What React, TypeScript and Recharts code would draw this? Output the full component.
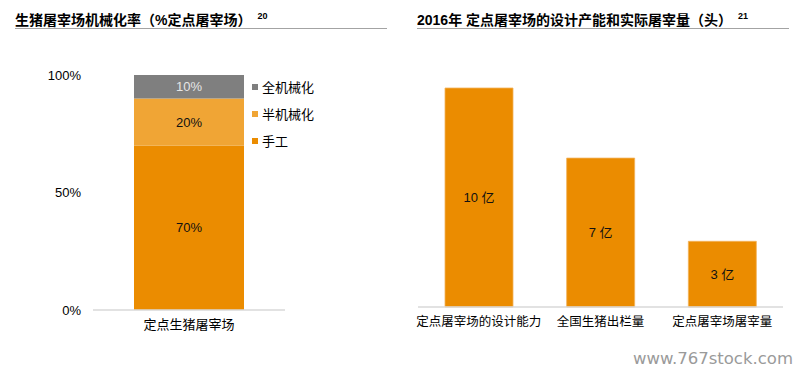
import { BarChart, Bar, XAxis, YAxis, Legend, LabelList } from "recharts";

const FONT = '"Liberation Sans", Arial, "Noto Sans CJK SC", sans-serif';

// left: mechanisation rate of designated slaughterhouses
const mechCategories = ["定点生猪屠宰场"];
const manualShare = [70];
const semiShare = [20];
const fullShare = [10];
const mechTicks = [0, 50, 100];
const legendOrder = ["全机械化", "半机械化", "手工"];

// right: 2016 design capacity vs actual slaughter (heads)
const capCategories = ["定点屠宰场的设计能力", "全国生猪出栏量", "定点屠宰场屠宰量"];
const capValues = [10, 6.8, 3];
const capLabels = ["10 亿", "7 亿", "3 亿"];

const mechData = mechCategories.map((name, i) => ({
  name,
  manual: manualShare[i],
  semi: semiShare[i],
  full: fullShare[i],
}));

const capData = capCategories.map((name, i) => ({
  name,
  value: capValues[i],
  label: capLabels[i],
}));

const ORANGE = "#EB8C00";
const LIGHT = "#F0A535";
const GREY = "#7F7F7F";

const LegendBox = (props: any) => {
  const items = [...(props.payload || [])].sort(
    (a: any, b: any) => legendOrder.indexOf(a.value) - legendOrder.indexOf(b.value)
  );
  return (
    <div style={{ fontFamily: FONT, fontSize: 13, color: "#000" }}>
      {items.map((it: any) => (
        <div key={it.value} style={{ display: "flex", alignItems: "center", height: 27 }}>
          <span style={{ width: 6, height: 6, background: it.color, marginRight: 4, display: "inline-block" }} />
          <span>{it.value}</span>
        </div>
      ))}
    </div>
  );
};

const Title = ({ left, width, text, note }: { left: number; width: number; text: string; note: string }) => (
  <div style={{ position: "absolute", left, top: 0, width }}>
    <div style={{ fontFamily: FONT, fontWeight: "bold", fontSize: 14, color: "#000", paddingTop: 9, height: 19, whiteSpace: "nowrap" }}>
      {text}
      <span style={{ fontSize: 9, marginLeft: 6, position: "relative", top: -6 }}>{note}</span>
    </div>
    <div style={{ borderTop: "1.5px solid #A3A3A3" }} />
  </div>
);

export default function App() {
  return (
    <div style={{ position: "absolute", left: 0, top: 0, width: 804, height: 375, background: "#fff", overflow: "hidden" }}>
      <Title left={15} width={372} text="生猪屠宰场机械化率（%定点屠宰场）" note="20" />
      <Title left={417} width={372} text="2016年 定点屠宰场的设计产能和实际屠宰量（头）" note="21" />

      <div style={{ position: "absolute", left: 0, top: 0 }}>
        <BarChart width={400} height={345} data={mechData} margin={{ top: 75, right: 115, bottom: 5, left: 0 }}>
          <XAxis
            dataKey="name"
            tickLine={false}
            axisLine={{ stroke: "#D9D9D9", strokeWidth: 1.5 }}
            tick={{ fill: "#000", fontSize: 13, fontFamily: FONT }}
            tickMargin={4}
          />
          <YAxis
            width={93}
            domain={[0, 100]}
            ticks={mechTicks}
            axisLine={false}
            tickLine={false}
            tickMargin={6}
            tickFormatter={(v) => `${v}%`}
            tick={{ fill: "#000", fontSize: 13, fontFamily: FONT }}
          />
          <Legend
            layout="vertical"
            align="center"
            verticalAlign="middle"
            content={<LegendBox />}
            wrapperStyle={{ left: 252, top: 73, width: 100 }}
          />
          <Bar dataKey="manual" name="手工" stackId="a" fill={ORANGE} barSize={110} isAnimationActive={false}>
            <LabelList dataKey="manual" position="center" formatter={(v: any) => `${v}%`} fill="#111" fontSize={13} fontFamily={FONT} />
          </Bar>
          <Bar dataKey="semi" name="半机械化" stackId="a" fill={LIGHT} barSize={110} isAnimationActive={false}>
            <LabelList dataKey="semi" position="center" formatter={(v: any) => `${v}%`} fill="#111" fontSize={13} fontFamily={FONT} />
          </Bar>
          <Bar dataKey="full" name="全机械化" stackId="a" fill={GREY} barSize={110} isAnimationActive={false}>
            <LabelList dataKey="full" position="center" formatter={(v: any) => `${v}%`} fill="#E6E6E6" fontSize={13} fontFamily={FONT} />
          </Bar>
        </BarChart>
      </div>

      <div style={{ position: "absolute", left: 400, top: 0 }}>
        <BarChart width={404} height={345} data={capData} margin={{ top: 88, right: 21, bottom: 8, left: 18 }}>
          <XAxis
            dataKey="name"
            tickLine={false}
            axisLine={{ stroke: "#D9D9D9", strokeWidth: 1.5 }}
            tick={{ fill: "#000", fontSize: 12.5, fontFamily: FONT }}
            tickMargin={4}
            interval={0}
          />
          <YAxis hide domain={[0, 10]} />
          <Bar dataKey="value" fill={ORANGE} stroke="#F2B25A" strokeWidth={0.8} barSize={68} isAnimationActive={false}>
            <LabelList dataKey="label" position="center" fill="#111" fontSize={13} fontFamily={FONT} />
          </Bar>
        </BarChart>
      </div>

      <div
        style={{
          position: "absolute",
          left: 633,
          top: 349,
          fontFamily: '"DejaVu Sans", sans-serif',
          fontSize: 16.5,
          color: "#9A9A9A",
          whiteSpace: "nowrap",
        }}
      >
        www.767stock.com
      </div>
    </div>
  );
}
